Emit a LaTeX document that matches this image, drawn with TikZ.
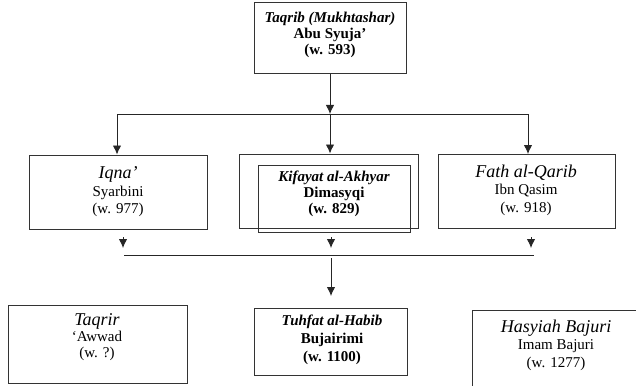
\documentclass[tikz,border=0pt]{standalone}
\usepackage{fontspec}
\setmainfont{Liberation Serif}
\usetikzlibrary{arrows.meta}
\begin{document}
\begin{tikzpicture}[x=1pt,y=-1pt,
  box/.style={draw=black!80, line width=1pt, inner sep=0pt, minimum width=#1},
  txt/.style={align=center, inner sep=0pt, font=\fontsize{15}{17.5}\selectfont},
  btxt/.style={align=center, inner sep=0pt, font=\fontsize{15}{16}\selectfont\bfseries},
  arr/.style={-{Latex[length=9pt,width=8.5pt]}, line width=0.9pt, draw=black!85},
  ln/.style={line width=0.9pt, draw=black!85}]
\useasboundingbox (0,0) rectangle (636,385);
\begin{scope}
\clip (0,0) rectangle (636,385);
% boxes
\node[box=152pt, minimum height=71pt] (top) at (330,38.5) {};
\node[box=178pt, minimum height=74pt] (iqna) at (118,192) {};
\node[box=179pt, minimum height=74pt] (kifo) at (328.5,191) {};
\node[box=152pt, minimum height=67pt] (kifi) at (334,198.5) {};
\node[box=177pt, minimum height=74pt] (fath) at (526.5,191.5) {};
\node[box=179pt, minimum height=78pt] (taqrir) at (97.5,344) {};
\node[box=153pt, minimum height=67pt] (tuhfat) at (330.5,341.5) {};
\node[box=170pt, minimum height=90pt] (hasy) at (557,355) {};
% texts
\node[btxt] (toptxt) at (330,35) {\itshape Taqrib (Mukhtashar)\\ Abu Syuja’\\ (w. 593)};
\node[txt] (iqnatxt) at (118,192) {{\fontsize{18}{18}\selectfont\itshape Iqna’}\\ Syarbini\\ (w. 977)};
\node[btxt] (kiftxt) at (334,194) {\itshape Kifayat al-Akhyar\\ Dimasyqi\\ (w. 829)};
\node[txt] (fathtxt) at (526,190) {{\fontsize{18}{18}\selectfont\itshape Fath al-Qarib}\\ Ibn Qasim\\ (w. 918)};
\node[txt, font=\fontsize{15}{16}\selectfont] (taqtxt) at (97,337) {{\fontsize{18}{18}\selectfont\itshape Taqrir}\\ ‘Awwad\\ (w. ?)};
\node[btxt, font=\fontsize{15}{18}\selectfont\bfseries] (tuhtxt) at (332,340) {\itshape Tuhfat al-Habib\\ Bujairimi\\ (w. 1100)};
\node[txt] (hastxt) at (556,345) {{\fontsize{18}{18}\selectfont\itshape Hasyiah Bajuri}\\ Imam Bajuri\\ (w. 1277)};
% upper connectors
\coordinate (hl) at (117,114);
\coordinate (hm) at (330,114);
\coordinate (hr) at (528,114);
\draw[arr] (top.south -| hm) -- (hm);
\draw[ln] (hl) -- (hr);
\draw[arr] (hl) -- (hl |- iqna.north);
\draw[arr] (hm) -- (hm |- kifo.north);
\draw[arr] (hr) -- (hr |- fath.north);
% short arrows below
\coordinate (al) at (123,237);
\coordinate (am) at (331,237);
\coordinate (ar) at (531,237);
\draw[arr] (al) -- ++(0,11);
\draw[arr] (am) -- ++(0,11);
\draw[arr] (ar) -- ++(0,11);
% lower line
\coordinate (ll) at (124,255);
\coordinate (lr) at (534,255);
\draw[ln] (ll) -- (lr);
\coordinate (lm) at (331,258);
\draw[arr] (lm) -- (331,296);
\end{scope}
\end{tikzpicture}
\end{document}
